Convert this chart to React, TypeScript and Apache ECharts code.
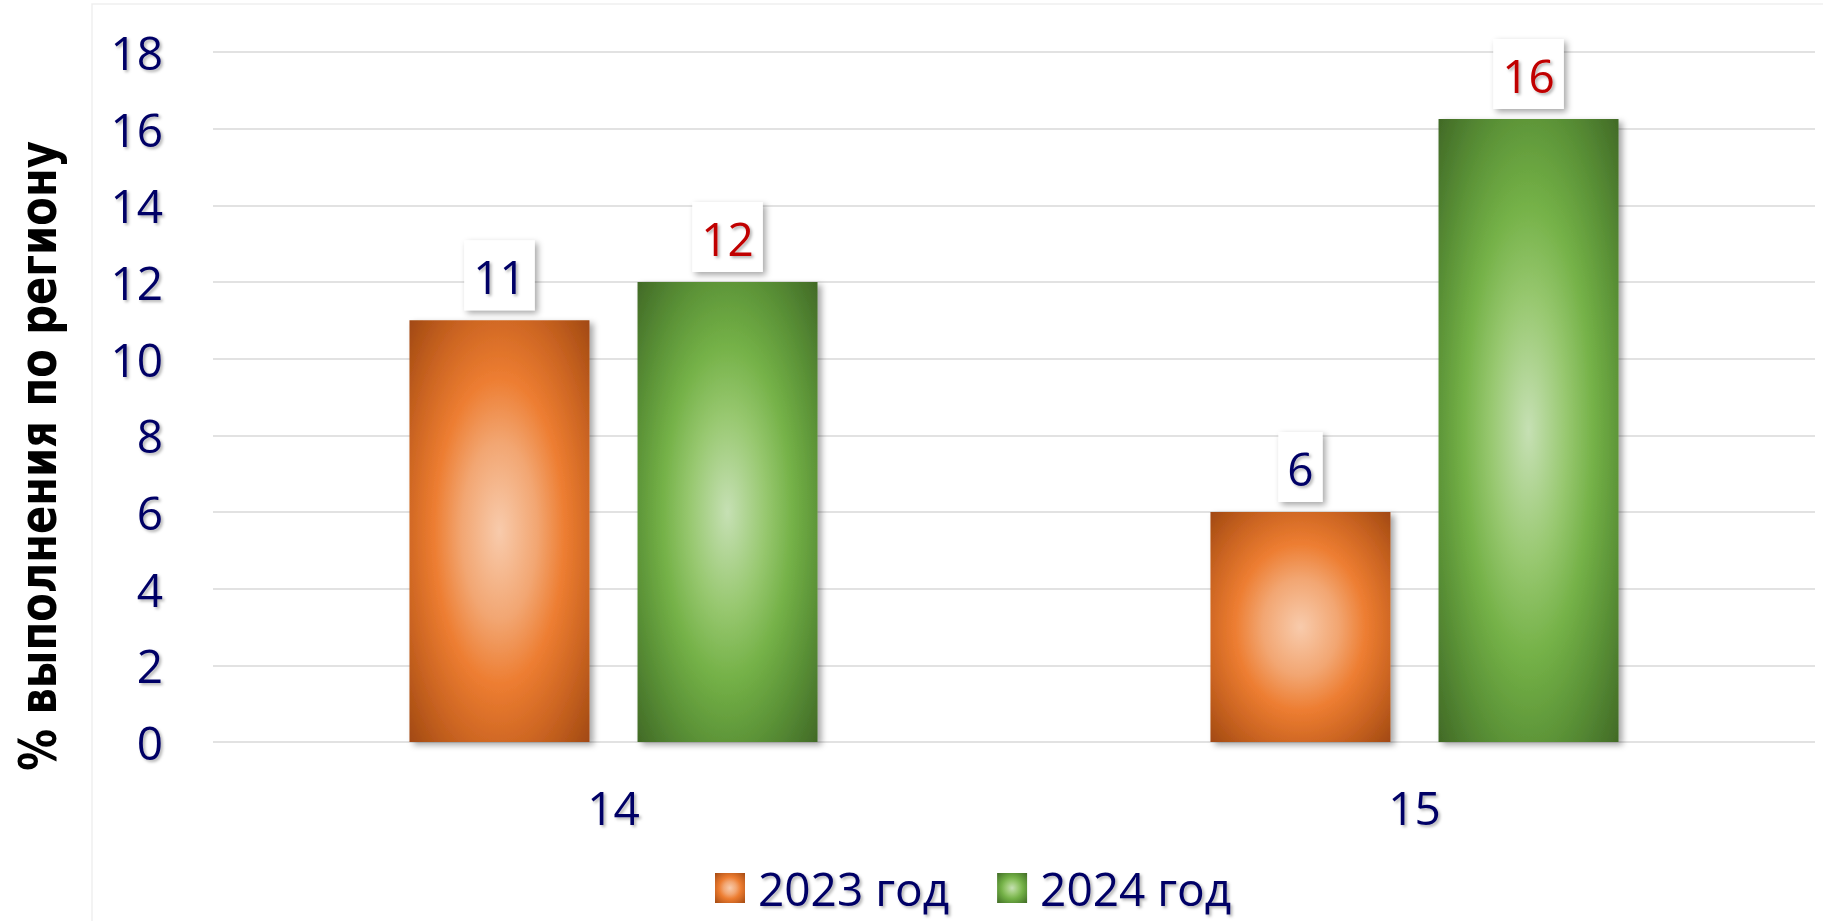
import React, { useEffect, useRef } from "react";
import * as echarts from "echarts";

const categories = ["14", "15"];
const seriesNames = ["2023 год", "2024 год"];
const values2023 = [11, 6];
const values2024 = [12, 16.25];
const yMin = 0;
const yMax = 18;
const yInterval = 2;
const yAxisTitle = "% выполнения по региону";

const NAVY = "#000066";
const RED = "#c00000";
const FONT = "'Open Sans', 'Noto Sans', sans-serif";

const orangeFill = {
  type: "radial",
  x: 0.5,
  y: 0.5,
  r: 0.7,
  colorStops: [
    { offset: 0, color: "#f8cbac" },
    { offset: 0.3, color: "#f2a672" },
    { offset: 0.52, color: "#ed7d31" },
    { offset: 0.75, color: "#cc6522" },
    { offset: 1, color: "#a34a12" },
  ],
};
const greenFill = {
  type: "radial",
  x: 0.5,
  y: 0.5,
  r: 0.7,
  colorStops: [
    { offset: 0, color: "#c6e0b4" },
    { offset: 0.3, color: "#98c870" },
    { offset: 0.52, color: "#74b147" },
    { offset: 0.75, color: "#5a9136" },
    { offset: 1, color: "#426b27" },
  ],
};

const textShadow = {
  textShadowColor: "rgba(0,0,0,0.3)",
  textShadowBlur: 3,
  textShadowOffsetX: 2,
  textShadowOffsetY: 2,
};

function makeLabel(color: string) {
  return {
    show: true,
    position: "top",
    distance: 10,
    formatter: (p: any) => String(Math.round(p.value)),
    color,
    fontFamily: FONT,
    fontSize: 46,
    lineHeight: 54,
    backgroundColor: "#ffffff",
    padding: [9, 9, 7, 9],
    shadowColor: "rgba(0,0,0,0.35)",
    shadowBlur: 6,
    shadowOffsetX: 3,
    shadowOffsetY: 3,
    ...textShadow,
  };
}

const barShadow = {
  shadowColor: "rgba(0,0,0,0.35)",
  shadowBlur: 6,
  shadowOffsetX: 4,
  shadowOffsetY: 3,
};

export default function App() {
  const ref = useRef<HTMLDivElement>(null);
  useEffect(() => {
    if (!ref.current) return;
    const chart = echarts.init(ref.current, undefined, { renderer: "svg" });
    chart.setOption({
      animation: false,
      backgroundColor: "#ffffff",
      grid: { left: 213, right: 8, top: 52, bottom: 179, containLabel: false },
      graphic: [
        {
          type: "rect",
          silent: true,
          z: -10,
          shape: { x: 92, y: 4, width: 1800, height: 1000 },
          style: { fill: "none", stroke: "#efefef", lineWidth: 1.5 },
        },
        {
          type: "text",
          x: 38,
          y: 456,
          rotation: Math.PI / 2,
          scaleX: 0.89,
          style: {
            text: yAxisTitle,
            fill: "#000000",
            fontFamily: "'Liberation Sans Narrow', 'DejaVu Sans Condensed', sans-serif",
            fontWeight: "bold",
            fontSize: 52,
            align: "center",
            verticalAlign: "middle",
          },
        },
      ],
      legend: {
        left: 715,
        top: 865,
        padding: 0,
        itemWidth: 30,
        itemHeight: 30,
        itemGap: 48,
        icon: "rect",
        data: seriesNames,
        textStyle: {
          color: NAVY,
          fontFamily: FONT,
          fontSize: 46,
          lineHeight: 38,
          padding: [0, 0, 0, 8],
          ...textShadow,
        },
      },
      xAxis: {
        type: "category",
        data: categories,
        axisLine: { show: false },
        axisTick: { show: false },
        axisLabel: {
          color: NAVY,
          fontFamily: FONT,
          fontSize: 46,
          margin: 42,
          ...textShadow,
        },
      },
      yAxis: {
        type: "value",
        min: yMin,
        max: yMax,
        interval: yInterval,
        axisLine: { show: false },
        axisTick: { show: false },
        splitLine: { lineStyle: { color: "#d9d9d9", width: 1.5 } },
        axisLabel: {
          color: NAVY,
          fontFamily: FONT,
          fontSize: 46,
          margin: 50,
          ...textShadow,
        },
      },
      series: [
        {
          name: seriesNames[0],
          type: "bar",
          data: values2023,
          barWidth: 180,
          barGap: "26.7%",
          itemStyle: { color: orangeFill, ...barShadow },
          label: makeLabel(NAVY),
        },
        {
          name: seriesNames[1],
          type: "bar",
          data: values2024,
          barWidth: 180,
          barGap: "26.7%",
          itemStyle: { color: greenFill, ...barShadow },
          label: makeLabel(RED),
        },
      ],
    });
    return () => chart.dispose();
  }, []);
  return (
    <div
      ref={ref}
      style={{ position: "fixed", left: 0, top: 0, width: 1823, height: 921, background: "#fff" }}
    />
  );
}
